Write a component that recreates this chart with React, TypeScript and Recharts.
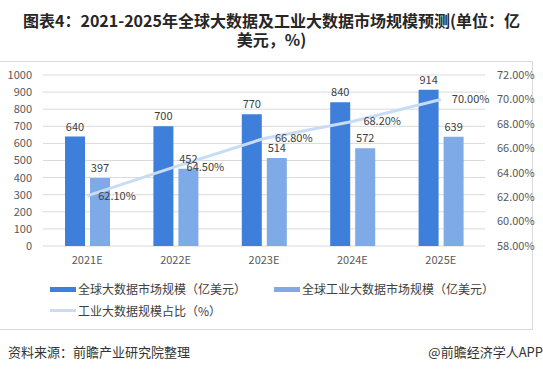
import { ComposedChart, Bar, Line, XAxis, YAxis, CartesianGrid, LabelList } from "recharts"

const years = ["2021E", "2022E", "2023E", "2024E", "2025E"]
const globalMarket = [640, 700, 770, 840, 914]
const industrialMarket = [397, 452, 514, 572, 639]
const industrialShare = [62.1, 64.5, 66.8, 68.2, 70.0]
const leftTicks = [0, 100, 200, 300, 400, 500, 600, 700, 800, 900, 1000]
const rightTicks = [58, 60, 62, 64, 66, 68, 70, 72]

const data = years.map((year, i) => ({
  year,
  global: globalMarket[i],
  industrial: industrialMarket[i],
  share: industrialShare[i],
}))

const FONT = '"Noto Sans CJK SC", "Noto Sans", sans-serif'
const DARK = "#3d7fdb"
const LIGHT = "#7eaae8"
const LINE = "#c8dcf5"
const tick = { fill: "#595959", fontSize: 11, fontFamily: FONT }
const pct = (v: number) => Number(v).toFixed(2) + "%"

const titleStyle = {
  position: "absolute" as const,
  left: 0,
  width: 543,
  textAlign: "center" as const,
  fontWeight: 700,
  fontSize: 16,
  lineHeight: "18px",
  color: "#262626",
}

export default function App() {
  return (
    <div
      style={{
        position: "absolute",
        left: 0,
        top: 0,
        width: 543,
        height: 369,
        background: "#fff",
        fontFamily: FONT,
        overflow: "hidden",
      }}
    >
      <div style={{ ...titleStyle, top: 11 }}>
        图表4：2021-2025年全球大数据及工业大数据市场规模预测(单位：亿
      </div>
      <div style={{ ...titleStyle, top: 30 }}>美元，%)</div>

      {/* chart frame */}
      <div
        style={{
          position: "absolute",
          left: -2,
          top: 61,
          width: 534,
          height: 267,
          borderTop: "1px solid #d9d9d9",
          borderRight: "1px solid #d9d9d9",
          borderBottom: "1px solid #d9d9d9",
        }}
      />

      <div style={{ position: "absolute", left: 0, top: 60 }}>
        <ComposedChart
          width={543}
          height={215}
          data={data}
          margin={{ top: 15, right: 0, bottom: 0, left: 0 }}
          barSize={20}
          barGap={5}
        >
          <CartesianGrid yAxisId="left" vertical={false} stroke="#d9d9d9" />
          <XAxis
            dataKey="year"
            axisLine={false}
            tickLine={false}
            tick={tick}
            tickMargin={4}
            height={29}
          />
          <YAxis
            yAxisId="left"
            domain={[0, 1000]}
            ticks={leftTicks}
            interval={0}
            axisLine={false}
            tickLine={false}
            tick={tick}
            tickMargin={5}
            width={43}
          />
          <YAxis
            yAxisId="right"
            orientation="right"
            domain={[58, 72]}
            ticks={rightTicks}
            interval={0}
            tickFormatter={pct}
            axisLine={false}
            tickLine={false}
            tick={tick}
            tickMargin={6}
            width={58}
          />
          <Bar yAxisId="left" dataKey="global" fill={DARK} isAnimationActive={false}>
            <LabelList dataKey="global" position="top" offset={6} fill="#404040" fontSize={11} fontFamily={FONT} />
          </Bar>
          <Bar yAxisId="left" dataKey="industrial" fill={LIGHT} isAnimationActive={false}>
            <LabelList dataKey="industrial" position="top" offset={6} fill="#404040" fontSize={11} fontFamily={FONT} />
          </Bar>
          <Line
            yAxisId="right"
            dataKey="share"
            stroke={LINE}
            strokeWidth={3}
            dot={false}
            activeDot={false}
            isAnimationActive={false}
          >
            <LabelList
              dataKey="share"
              position="right"
              offset={11}
              formatter={pct}
              fill="#404040"
              fontSize={11}
              fontFamily={FONT}
            />
          </Line>
        </ComposedChart>
      </div>

      {/* legend */}
      <div style={{ position: "absolute", left: 50, top: 287, width: 26, height: 5, background: DARK }} />
      <div style={{ position: "absolute", left: 78, top: 280, fontSize: 12, lineHeight: "17px", color: "#404040" }}>
        全球大数据市场规模（亿美元）
      </div>
      <div style={{ position: "absolute", left: 274, top: 287, width: 26, height: 5, background: LIGHT }} />
      <div style={{ position: "absolute", left: 302, top: 280, fontSize: 12, lineHeight: "17px", color: "#404040" }}>
        全球工业大数据市场规模（亿美元）
      </div>
      <div style={{ position: "absolute", left: 50, top: 309, width: 26, height: 3, background: LINE }} />
      <div style={{ position: "absolute", left: 78, top: 302, fontSize: 12, lineHeight: "17px", color: "#404040" }}>
        工业大数据规模占比（%）
      </div>

      {/* footer */}
      <div style={{ position: "absolute", left: 8, top: 343, fontSize: 13, lineHeight: "18px", color: "#333" }}>
        资料来源：前瞻产业研究院整理
      </div>
      <div style={{ position: "absolute", right: 0, top: 343, fontSize: 13, lineHeight: "18px", color: "#333" }}>
        @前瞻经济学人APP
      </div>
    </div>
  )
}
